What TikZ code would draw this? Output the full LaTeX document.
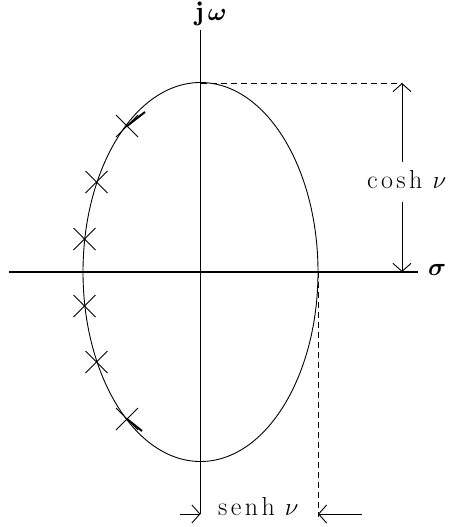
\documentclass[tikz,border=0pt]{standalone}
\usepackage{amsmath,bm}
\usepackage{fontspec}
\usetikzlibrary{arrows.meta,calc}
\newcommand\lk{\kern3.4pt}
\tikzset{
  axis/.style={line width=1.5pt},
  curve/.style={line width=0.9pt},
  guide/.style={line width=1pt, dash pattern=on 6pt off 4pt},
  dim/.style={line width=0.9pt, -{Straight Barb[length=8pt,width=18pt,line width=0.9pt]}},
  pole/.style={line width=0.9pt},
  lab/.style={inner sep=0pt, font=\fontsize{26}{29}\selectfont},
  axlab/.style={inner sep=0pt, font=\fontsize{27}{30}\selectfont},
}
\begin{document}
\begin{tikzpicture}[x=1pt,y=-1pt]
\useasboundingbox (0,0) rectangle (449,527);
% key points
\coordinate (O) at (200.5,272);
\coordinate (top) at (200.5,83);
\coordinate (right) at (318,272);
\coordinate (xL) at (9,272);
\coordinate (xR) at (418,272);
\coordinate (yT) at (200.5,30);
\coordinate (yB) at (200.5,514);
% axes
\draw[axis] (xL) -- (xR);
\draw[axis] (yT) -- (yB);
% ellipse
\draw[curve] (O) ellipse [x radius=117.5, y radius=189.5];
% dashed guides
\coordinate (cT) at (402,83);
\coordinate (cB) at (402,272);
\coordinate (sB) at (318,517);
\draw[guide] (top) -- (cT);
\draw[guide] (right) -- (sB);
% cosh dimension
\node[lab, anchor=base west] (cosh) at (367,188) {c\lk o\lk s\lk h\kern10pt$\nu$};
\draw[dim] (402,162) -- (cT);
\draw[dim] (402,202) -- (cB);
% senh dimension
\coordinate (sL) at (200.5,514);
\coordinate (sR) at (318,514);
\node[lab, anchor=base west] (senh) at (218,515) {s\lk e\lk n\lk h\kern10pt$\nu$};
\draw[dim] (180,514) -- (sL);
\draw[dim] (362,514) -- (sR);
% axis labels
\node[axlab] (jw) at (211,14) {$\mathbf{j}\,\bm{\omega}$};
\node[axlab] (sig) at (437,270) {$\bm{\sigma}$};
% poles
\foreach \n/\px/\py in {1/127/126, 2/96.5/182, 3/84.5/239, 4/84.5/306, 5/96.5/362, 6/127/419}{
  \coordinate (p\n) at (\px,\py);
  \draw[pole] ($(p\n)+(-11,-11)$) -- ($(p\n)+(11,11)$);
  \draw[pole] ($(p\n)+(-11,11)$) -- ($(p\n)+(11,-11)$);
}
\draw[line width=2pt] (p1) -- ++(18,-14);
\draw[line width=2pt] (p6) -- ++(15,12);
\end{tikzpicture}
\end{document}
